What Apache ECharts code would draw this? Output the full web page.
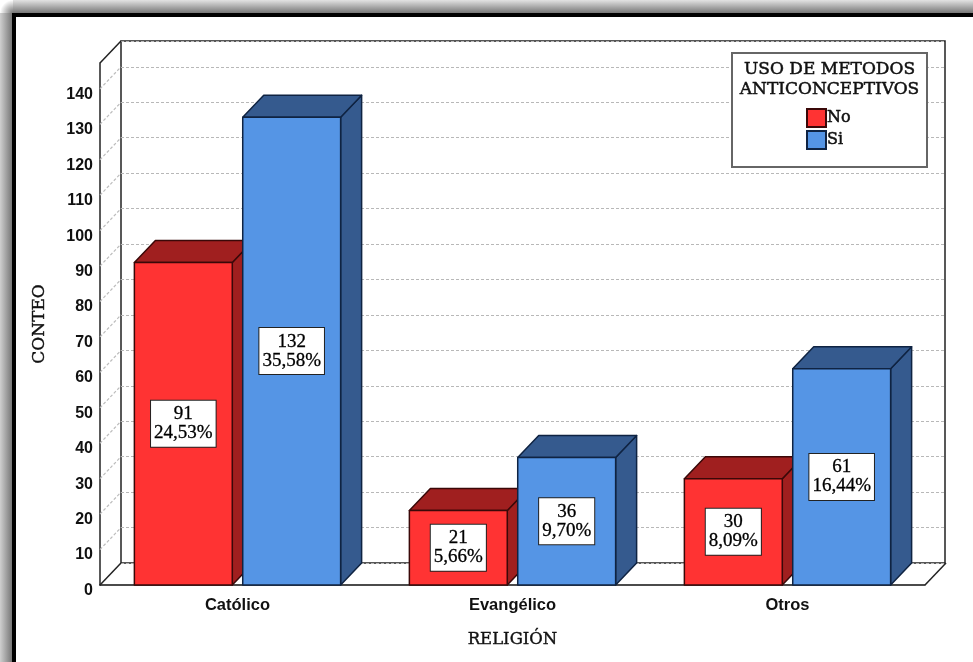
<!DOCTYPE html>
<html><head><meta charset="utf-8">
<style>html,body{margin:0;padding:0;background:#fff}#c{width:973px;height:662px}</style>
<script src="https://cdn.jsdelivr.net/npm/echarts@6/dist/echarts.min.js"></script>
</head><body><div id="c"></div>
<script>
var categories = ['Católico', 'Evangélico', 'Otros'];
var noValues = [91, 21, 30];
var siValues = [132, 36, 61];
var noPercents = ['24,53%', '5,66%', '8,09%'];
var siPercents = ['35,58%', '9,70%', '16,44%'];
var wallTicks = [10, 20, 30, 40, 50, 60, 70, 80, 90, 100, 110, 120, 130, 140];
var legendTitle = 'USO DE METODOS\nANTICONCEPTIVOS';
var xName = 'RELIGIÓN', yName = 'CONTEO';

var DX = 21, DY = -22, AXMAX = 147.3;
var SERIF = '"Liberation Serif", serif', WIDE = '"DejaVu Serif", serif', SANS = '"Liberation Sans", Arial, sans-serif';
var chart = echarts.init(document.getElementById('c'));

function barSeries(name, values, percents, face, dark, edge, offset) {
  return {
    name: name, type: 'custom', xAxisIndex: 0, yAxisIndex: 0, z: 5, clip: false,
    itemStyle: { color: face, borderColor: edge, borderWidth: 1.5 },
    data: values.map(function (v, i) { return [i, v]; }),
    renderItem: function (params, api) {
      var band = api.size([1, 0])[0];
      var w = band * 0.356, c = api.coord([api.value(0), 0]);
      var top = api.coord([api.value(0), api.value(1)])[1];
      var x0 = c[0] + band * offset - w / 2, x1 = x0 + w, y0 = c[1];
      var st = function (f) { return { fill: f, stroke: edge, lineWidth: 1.5, lineJoin: 'round' }; };
      var idx = params.dataIndex;
      return { type: 'group', children: [
        { type: 'polygon', shape: { points: [[x1, y0], [x1 + DX, y0 + DY], [x1 + DX, top + DY], [x1, top]] }, style: st(dark) },
        { type: 'polygon', shape: { points: [[x0, top], [x0 + DX, top + DY], [x1 + DX, top + DY], [x1, top]] }, style: st(dark) },
        { type: 'rect', shape: { x: x0, y: top, width: w, height: y0 - top }, style: st(face) },
        { type: 'text', z2: 20, style: {
            text: values[idx] + '\n' + percents[idx], x: (x0 + x1) / 2, y: (top + y0) / 2,
            align: 'center', verticalAlign: 'middle', fill: '#000', stroke: '#000', lineWidth: 0.3, font: '19px ' + SERIF,
            lineHeight: 19, backgroundColor: '#fff', borderColor: '#222', borderWidth: 1, padding: [4, 3, 4, 3]
        } }
      ] };
    }
  };
}

var option = {
  animation: false,
  backgroundColor: '#fff',
  grid: [
    { left: 100, right: 48, top: 63, bottom: 77 },
    { left: 121, right: 28, top: 41, bottom: 99, show: true, borderColor: '#222', borderWidth: 1.5, backgroundColor: 'transparent' }
  ],
  xAxis: [
    { type: 'category', gridIndex: 0, data: categories, name: xName, nameLocation: 'middle', nameGap: 46,
      nameTextStyle: { fontFamily: WIDE, fontSize: 16.5, color: '#111', textBorderColor: '#111', textBorderWidth: 0.4 },
      axisTick: { show: false }, axisLine: { lineStyle: { color: '#111', width: 1.5 } },
      axisLabel: { fontFamily: SANS, fontWeight: 'bold', fontSize: 16.5, color: '#111', margin: 12 } },
    { type: 'category', gridIndex: 1, data: categories, show: false }
  ],
  yAxis: [
    { type: 'value', gridIndex: 0, min: 0, max: AXMAX, interval: 10, name: yName, nameLocation: 'middle', nameGap: 52,
      nameTextStyle: { fontFamily: WIDE, fontSize: 17, color: '#111', textBorderColor: '#111', textBorderWidth: 0.4 },
      splitLine: { show: false }, axisTick: { show: false },
      axisLine: { show: true, lineStyle: { color: '#222', width: 1.5 } },
      axisLabel: { showMaxLabel: false, fontFamily: SANS, fontWeight: 'bold', fontSize: 16, color: '#111', margin: 7, verticalAlign: 'top', lineHeight: 11 } },
    { type: 'value', gridIndex: 1, min: 0, max: AXMAX, interval: 10, axisLabel: { show: false }, axisTick: { show: false }, axisLine: { show: false },
      splitLine: { show: true, lineStyle: { color: '#b8b8b8', width: 1.2, type: [3, 2] } } }
  ],
  title: {
    text: legendTitle, left: 829.5, top: 60, padding: 0, textAlign: 'center', z: 12,
    textStyle: { fontFamily: WIDE, fontWeight: 'normal', fontSize: 17, lineHeight: 19.5, color: '#111', textBorderColor: '#111', textBorderWidth: 0.5 }
  },
  legend: {
    data: ['No', 'Si'], orient: 'vertical', left: 806, top: 108, itemWidth: 19, itemHeight: 18, itemGap: 2, z: 12, padding: 0,
    selectedMode: false, icon: 'rect',
    textStyle: { fontFamily: WIDE, fontSize: 16, lineHeight: 18, color: '#111', textBorderColor: '#111', textBorderWidth: 0.5, padding: [0, 0, 0, -4] }
  },
  graphic: [
    { type: 'rect', z: 100, silent: true, shape: { x: 13, y: 0, width: 960, height: 13 },
      style: { fill: new echarts.graphic.LinearGradient(0, 0, 0, 1, [{ offset: 0, color: '#e2e2e2' }, { offset: 1, color: '#777' }]) } },
    { type: 'rect', z: 100, silent: true, shape: { x: 0, y: 13, width: 12, height: 649 },
      style: { fill: new echarts.graphic.LinearGradient(0, 0, 1, 0, [{ offset: 0, color: '#cfcfcf' }, { offset: 1, color: '#777' }]) } },
    { type: 'rect', z: 100, silent: true, shape: { x: 0, y: 0, width: 13, height: 13 },
      style: { fill: new echarts.graphic.RadialGradient(1, 1, 1, [{ offset: 0, color: '#777' }, { offset: 1, color: '#fff' }]) } },
    { type: 'rect', z: 101, silent: true, shape: { x: 12, y: 13, width: 961, height: 4 }, style: { fill: '#000' } },
    { type: 'rect', z: 101, silent: true, shape: { x: 12, y: 13, width: 4, height: 649 }, style: { fill: '#000' } },
    { type: 'rect', z: 9, silent: true, shape: { x: 732, y: 53, width: 195, height: 114 },
      style: { fill: '#fff', stroke: '#666', lineWidth: 2 } }
  ],
  series: [
    { type: 'custom', xAxisIndex: 0, yAxisIndex: 0, z: 3, silent: true, clip: false,
      data: wallTicks.map(function (t) { return [0, t]; }),
      renderItem: function (params, api) {
        var y = api.coord([0, api.value(1)])[1], x = params.coordSys.x;
        return { type: 'line', shape: { x1: x, y1: y, x2: x + DX, y2: y + DY },
          style: { stroke: '#bcbcbc', lineWidth: 1.2, lineDash: [3, 2] } };
      } },
    { type: 'custom', xAxisIndex: 0, yAxisIndex: 0, z: 3, silent: true, clip: false, data: [[0, 0]],
      renderItem: function (params, api) {
        var r = params.coordSys, b = r.y + r.height, rx = r.x + r.width;
        var s = { stroke: '#222', lineWidth: 1.5 };
        return { type: 'group', children: [
          { type: 'line', shape: { x1: r.x, y1: b, x2: r.x + DX, y2: b + DY }, style: s },
          { type: 'line', shape: { x1: rx, y1: b, x2: rx + DX, y2: b + DY }, style: s },
          { type: 'line', shape: { x1: r.x, y1: r.y, x2: r.x + DX, y2: r.y + DY }, style: s }
        ] };
      } },
    barSeries('No', noValues, noPercents, '#FF3333', '#A01F1F', '#3a0808', -0.197),
    barSeries('Si', siValues, siPercents, '#5595E5', '#355A8E', '#0f2342', 0.197)
  ]
};
chart.setOption(option);
</script></body></html>
